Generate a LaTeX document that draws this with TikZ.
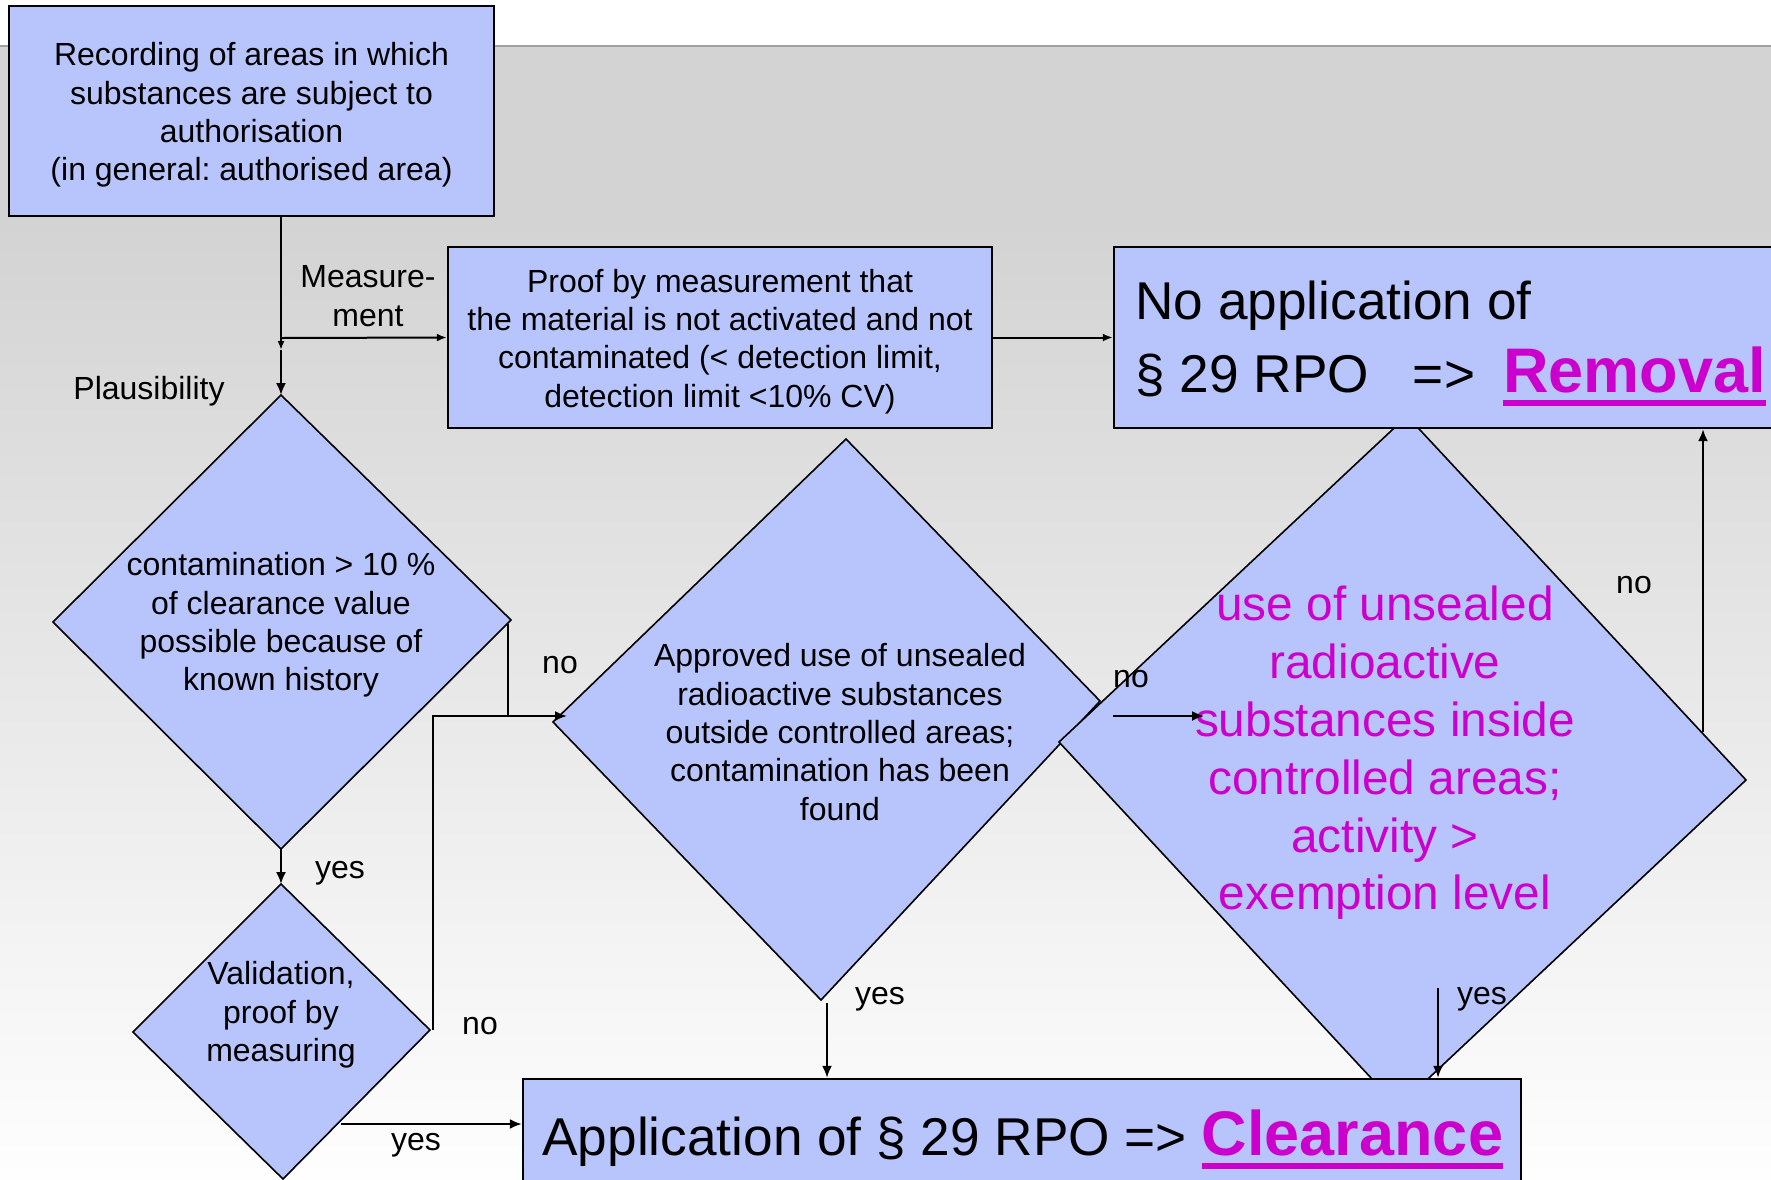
\documentclass[tikz,border=0pt]{standalone}
\usepackage{fontspec}
\setmainfont{Liberation Sans}
\usetikzlibrary{arrows.meta,calc}
\frenchspacing

\definecolor{boxfill}{RGB}{184,197,253}
\definecolor{hilite}{RGB}{204,0,204}
\definecolor{bgtop}{RGB}{211,211,211}
\definecolor{bgbot}{RGB}{254,254,254}
\definecolor{rulegray}{RGB}{160,160,160}

% thick underline in the current colour
\newcommand\hiul[1]{\setbox0\hbox{#1}\rlap{\rule[-6.8pt]{\wd0}{3.1pt}}\box0}

\tikzset{
  box/.style={draw=black, line width=1.2pt, fill=boxfill, inner sep=0pt},
  dia/.style={draw=black, line width=0.8pt, fill=boxfill},
  conn/.style={line width=1pt},
  arr/.style={conn, -{Latex[length=6pt,width=5pt]}},
  txt/.style={font=\fontsize{16}{19.2}\selectfont, align=center, inner sep=0pt, yshift=-2pt},
  lbl/.style={font=\fontsize{16}{19.2}\selectfont, inner sep=0pt, yshift=-2pt},
  bigtxt/.style={font=\fontsize{26.6}{32}\selectfont, inner sep=0pt, anchor=base west},
  hot/.style={font=\fontsize{23.9}{28.9}\selectfont, align=center, text=hilite, inner sep=0pt, yshift=-2pt},
}

\begin{document}
\begin{tikzpicture}[x=0.5pt,y=-0.5pt]
  \clip (0,0) rectangle (1771,1179);

  % slide background
  \fill[white] (0,0) rectangle (1771,46);
  \fill[bgtop] (0,46) rectangle (1771,221);
  \shade[top color=bgtop, bottom color=bgbot] (0,220) rectangle (1771,1179);
  \draw[rulegray, line width=1.2pt] (0,46) -- (1771,46);

  % decision diamonds
  \coordinate (d1t) at (281,395);  \coordinate (d1r) at (511,620);
  \coordinate (d1b) at (281,849);  \coordinate (d1l) at (53,622);
  \coordinate (d3t) at (281,884);  \coordinate (d3r) at (430,1030);
  \coordinate (d3b) at (283,1179); \coordinate (d3l) at (133,1032);
  \coordinate (d2t) at (846,439);  \coordinate (d2r) at (1100,701);
  \coordinate (d2b) at (821,1000); \coordinate (d2l) at (553,722);
  \coordinate (d4t) at (1407,416); \coordinate (d4r) at (1746,780);
  \coordinate (d4b) at (1398,1107);\coordinate (d4l) at (1059,742);

  \filldraw[dia] (d1t) -- (d1r) -- (d1b) -- (d1l) -- cycle;
  \filldraw[dia] (d3t) -- (d3r) -- (d3b) -- (d3l) -- cycle;
  \filldraw[dia] (d2t) -- (d2r) -- (d2b) -- (d2l) -- cycle;
  \filldraw[dia] (d4t) -- (d4r) -- (d4b) -- (d4l) -- cycle;

  % boxes
  \node[box, minimum width=242.5pt, minimum height=105pt] (rec) at (251.5,111) {};
  \node[box, minimum width=272pt, minimum height=90.5pt] (proof) at (720,337.5) {};
  \node[box, minimum width=343pt, minimum height=90.5pt] (rem) at (1457,337.5) {};
  \node[box, minimum width=499pt, minimum height=65.5pt] (clr) at (1022,1144.5) {};

  \node[txt] (recT) at (rec.center)
    {Recording of areas in which\\substances are subject to\\authorisation\\(in general: authorised area)};
  \node[txt] (proofT) at (proof.center)
    {Proof by measurement that\\the material is not activated and not\\contaminated (< detection limit,\\detection limit <10\% CV)};
  \node[bigtxt] (remA) at (1135,319) {No application of};
  \node[bigtxt] (remB) at (1135,392.5)
    {§ 29 RPO\hspace{22pt}=>\hspace{14pt}{\fontsize{31.5}{36}\selectfont\bfseries\color{hilite}\hiul{Removal}}};
  \node[bigtxt] (clrA) at (542,1155.6)
    {Application of § 29 RPO => {\fontsize{31.5}{36}\selectfont\bfseries\color{hilite}\hiul{Clearance}}};

  % diamond texts
  \node[txt] (t1) at (281,621)
    {contamination > 10 \%\\of clearance value\\possible because of\\known history};
  \node[txt] (t2) at (840,728)
    {Approved use of unsealed\\radioactive substances\\outside controlled areas;\\contamination has been\\found};
  \node[txt] (t3) at (281,1011) {Validation,\\proof by\\measuring};
  \node[hot] (t4) at (1385,749)
    {use of unsealed\\radioactive\\substances inside\\controlled areas;\\activity >\\exemption level};

  % connectors
  \coordinate (j0) at (281,338);
  \coordinate (j1) at (281,350);
  \coordinate (k)  at (433,716);
  \coordinate (d2in) at (567,716);
  \coordinate (d3y) at (341,1124);
  \coordinate (d2y) at (827,1003);
  \coordinate (d2no) at (1113,716);
  \coordinate (d4in) at (1204,716);
  \coordinate (d4no) at (1703,732);
  \coordinate (d4y) at (1438,988);

  \draw[conn, -{Latex[length=4.5pt,width=3.5pt]}] (rec.south -| j0) -- (j1);
  \draw[arr] (j1) -- (d1t);
  \draw[conn, -{Latex[length=5pt,width=4pt]}] (j0) -- (proof.west);
  \draw[conn, -{Latex[length=5pt,width=4pt]}] (proof.east) -- (rem.west);
  \draw[arr] ($(d1r)+(-3,4)$) |- (d2in);
  \draw[conn] (k |- d3r) -- (k) -- ($(d1r |- k)+(-3,0)$);
  \draw[arr] (d1b) -- (d3t);
  \draw[arr] (d3y) -- (d3y -| clr.west);
  \draw[arr] (d2y) -- (d2y |- clr.north);
  \draw[arr] (d2no) -- (d4in);
  \draw[arr] (d4no) -- (d4no |- rem.south);
  \draw[arr] (d4y) -- (d4y |- clr.north);

  % connector labels
  \node[txt] (lmeas) at (368,292) {Measure-\\ment};
  \node[lbl] (lplaus) at (149,387) {Plausibility};
  \node[lbl] (lno1) at (560,661) {no};
  \node[lbl] (lyes1) at (340,869) {yes};
  \node[lbl] (lno2) at (480,1022) {no};
  \node[lbl] (lyes2) at (416,1141) {yes};
  \node[lbl] (lyes3) at (880,995) {yes};
  \node[lbl] (lno3) at (1131,675) {no};
  \node[lbl] (lno4) at (1634,581) {no};
  \node[lbl] (lyes4) at (1482,995) {yes};
\end{tikzpicture}
\end{document}
